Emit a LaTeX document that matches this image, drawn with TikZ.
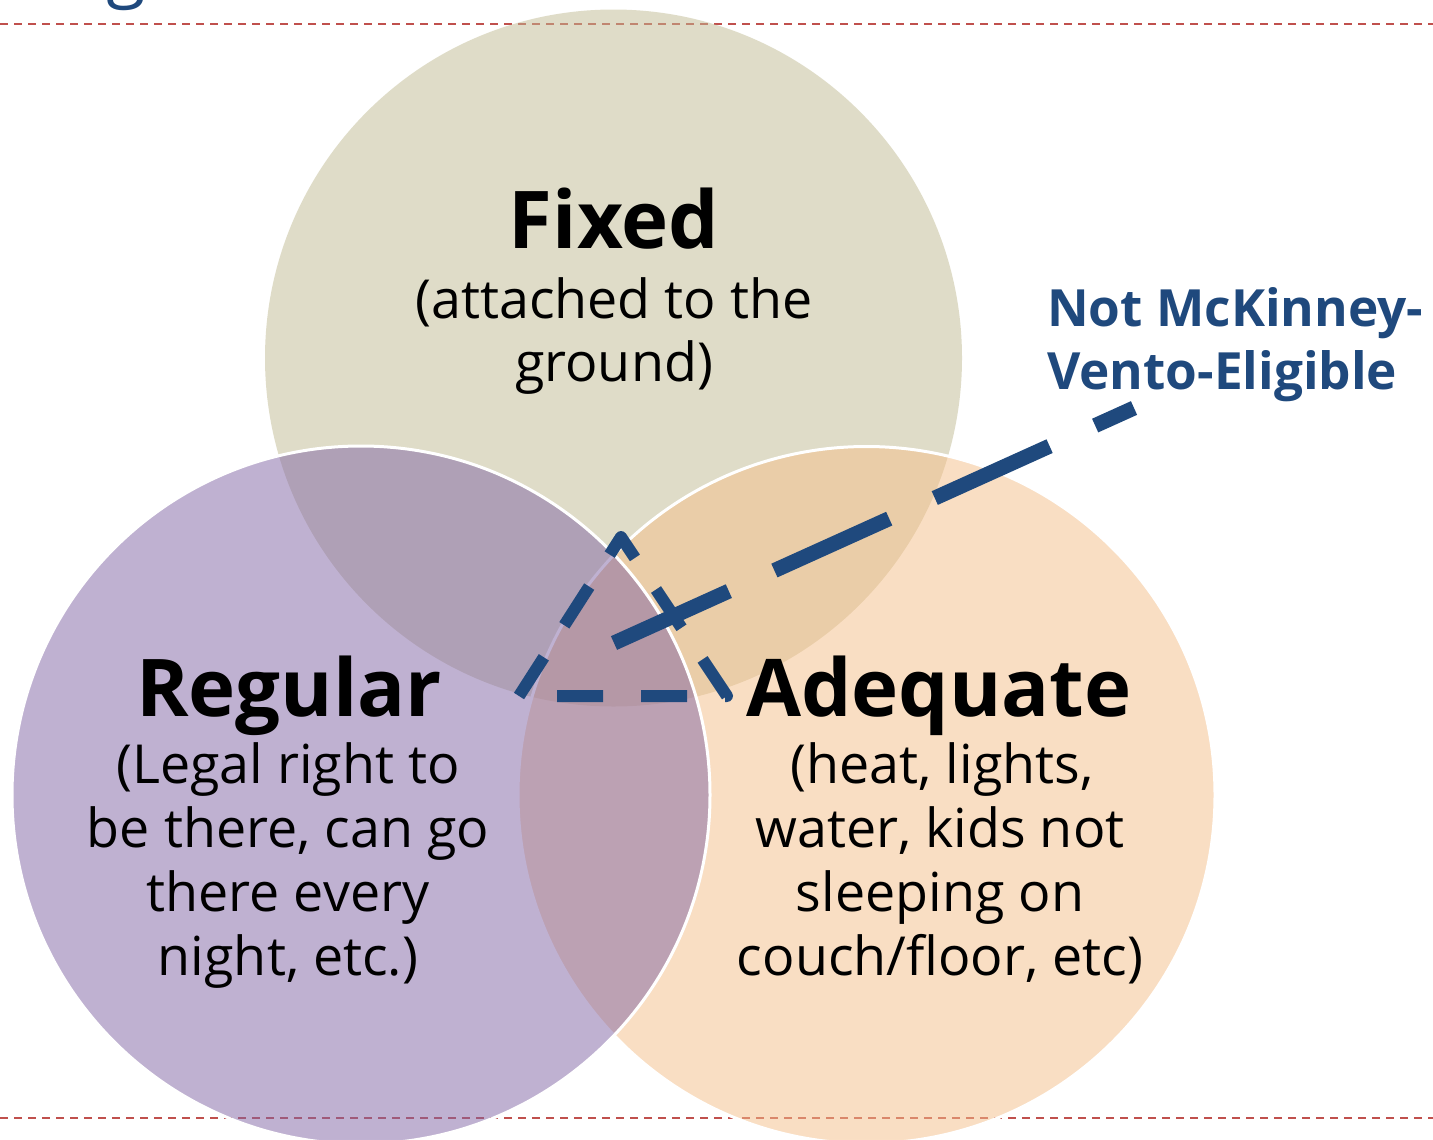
\documentclass[tikz,border=0pt]{standalone}
\usepackage{fontspec}
\setmainfont{Open Sans}
\definecolor{fixedC}{RGB}{193,187,147}
\definecolor{regC}{RGB}{129,101,165}
\definecolor{adeqC}{RGB}{245,191,137}
\definecolor{mblue}{RGB}{31,73,125}
\definecolor{mred}{RGB}{192,80,77}
\begin{document}
\begin{tikzpicture}[x=1bp,y=-1bp,
  circ/.style={fill opacity=0.5, line width=3bp},
  ttl/.style={font=\fontsize{80}{80}\selectfont\bfseries, inner sep=0pt, anchor=base},
  body/.style={font=\fontsize{54}{63}\selectfont, inner sep=0pt, anchor=base},
  lbl/.style={font=\fontsize{51.5}{63}\selectfont\bfseries, text=mblue, inner sep=0pt, anchor=base west},
  redline/.style={draw=mred, line width=2.7bp, dash pattern=on 8.3bp off 5.7bp},
  tri/.style={draw=mblue, line width=12bp, dash pattern=on 46bp off 38bp, line join=round},
  longdash/.style={draw=mblue, line width=15bp, dash pattern=on 126bp off 50bp},
]
\useasboundingbox (0,0) rectangle (1433,1139);
\clip (0,0) rectangle (1433,1139);
\fill[white] (0,0) rectangle (1433,1139);

% partial title glyph cut off at the top
\node[font=\fontsize{72}{72}\selectfont, text=mblue, inner sep=0pt, anchor=base] (tg) at (126,-7) {g};

% separator lines
\coordinate (topL) at (0,24);
\coordinate (topR) at (1433,24);
\coordinate (botL) at (0,1118);
\coordinate (botR) at (1433,1118);
\draw[redline] (topL) -- (topR);
\draw[redline] (botL) -- (botR);

% circles
\fill[circ, fixedC] (613.5,358) circle (348.5);
\filldraw[circ, fill=adeqC, draw=white] (866.5,795) circle (348.5);
\filldraw[circ, fill=regC, draw=white] (361,795) circle (349);

% texts
\node[ttl] (fixT) at (614,248) {Fixed};
\node[body] (fix1) at (614,318) {(attached to the};
\node[body] (fix2) at (614,381) {ground)};

\node[ttl] (regT) at (289,716) {Regular};
\node[body] (reg1) at (288,783) {(Legal right to};
\node[body] (reg2) at (288,847) {be there, can go};
\node[body] (reg3) at (288,911) {there every};
\node[body] (reg4) at (288,975) {night, etc.)};

\node[ttl] (adqT) at (939,716) {Adequate};
\node[body] (adq1) at (942,783) {(heat, lights,};
\node[body] (adq2) at (940,847) {water, kids not};
\node[body] (adq3) at (940,911) {sleeping on};
\node[body] (adq4) at (940,975) {couch/floor, etc)};

\node[lbl] (nm1) at (1047,326) {Not McKinney-};
\node[lbl] (nm2) at (1047,389) {Vento-Eligible};

% dashed triangle
\coordinate (triL) at (519,696);
\coordinate (triA) at (621,537);
\coordinate (triR) at (727,696);
\draw[tri] (triL) -- (triA) -- (triR) -- cycle;

% long dashed pointer
\coordinate (ptS) at (614,643);
\coordinate (ptE) at (1134,408);
\draw[longdash] (ptS) -- (ptE);
\end{tikzpicture}
\end{document}
